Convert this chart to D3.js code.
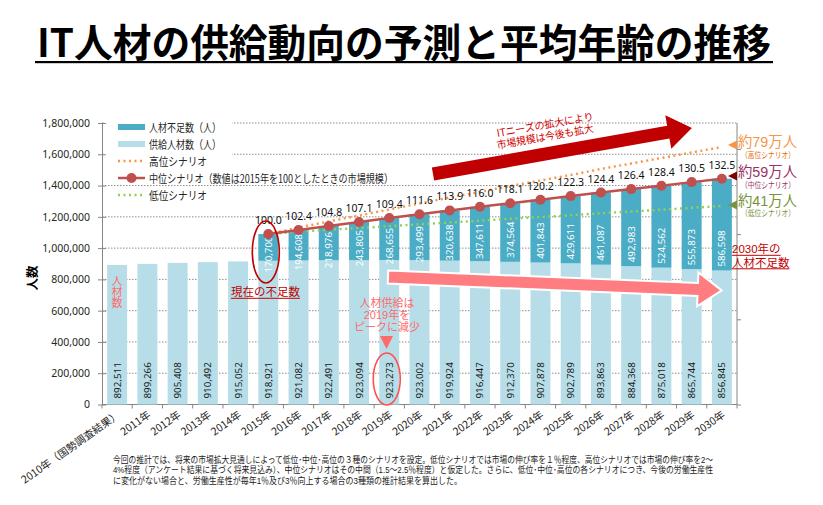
<!DOCTYPE html>
<html>
<head>
<meta charset="utf-8">
<script src="https://cdn.jsdelivr.net/npm/d3@7"></script>
<style>
  body { margin: 0; background: #fff; }
  text { font-family: "Noto Sans CJK JP", "Noto Sans", sans-serif; }
  text.tight { font-family: "Liberation Sans", "Noto Sans CJK JP", sans-serif; }
</style>
</head>
<body>
<div id="chart"></div>
<script>
// ---- data ----
const years = ["2010年（国勢調査結果）", "2011年", "2012年", "2013年", "2014年", "2015年",
  "2016年", "2017年", "2018年", "2019年", "2020年", "2021年", "2022年", "2023年",
  "2024年", "2025年", "2026年", "2027年", "2028年", "2029年", "2030年"];
const supply = [892511, 899266, 905408, 910492, 915052, 918921, 921082, 922491, 923094,
  923273, 923002, 919924, 916447, 912370, 907878, 902789, 893863, 884368, 875018, 865744, 856845];
// shortage from 2015 on
const projYears = years.slice(5);
const shortage = [170700, 194608, 218976, 243805, 268655, 293499, 320638, 347611, 374564,
  401843, 429611, 461087, 492983, 524562, 555873, 586598];
const midIndex = [100.0, 102.4, 104.8, 107.1, 109.4, 111.6, 113.9, 116.0, 118.1, 120.2,
  122.3, 124.4, 126.4, 128.4, 130.5, 132.5];
// demand under the high / low scenarios (persons, estimated)
const highScenario = [1089621, 1131800, 1170200, 1208500, 1246900, 1285300, 1323600, 1358800,
  1397200, 1432300, 1467500, 1505900, 1541000, 1576200, 1611400, 1646500];
const lowScenario = [1089621, 1104900, 1117100, 1128600, 1140100, 1152300, 1163800, 1175300,
  1187400, 1198900, 1210400, 1222600, 1234100, 1245600, 1257800, 1269300];
const yTicks = [0, 200000, 400000, 600000, 800000, 1000000, 1200000, 1400000, 1600000, 1800000];
const indexTicks = [0, 50, 100, 150];

const legendItems = ["人材不足数（人）", "供給人材数（人）", "高位シナリオ",
  "中位シナリオ（数値は2015年を100としたときの市場規模）", "低位シナリオ"];
const footer = [
  "今回の推計では、将来の市場拡大見通しによって低位･中位･高位の３種のシナリオを設定。低位シナリオでは市場の伸び率を１％程度、高位シナリオでは市場の伸び率を2～",
  "4%程度（アンケート結果に基づく将来見込み）、中位シナリオはその中間（1.5～2.5％程度）と仮定した。さらに、低位･中位･高位の各シナリオにつき、今後の労働生産性",
  "に変化がない場合と、労働生産性が毎年1％及び3％向上する場合の3種類の推計結果を算出した。"
];

// ---- colours ----
const cShort = "#4bacc6", cSupply = "#b7dee8", cMid = "#c0504d",
  cHigh = "#f79646", cLow = "#92d050", darkRed = "#c00000", salmon = "#ff6b6b";

const W = 823, H = 505;
const svg = d3.select("#chart").append("svg").attr("width", W).attr("height", H);

const plot = { left: 102, right: 737, top: 123, bottom: 404.5 };

const x = d3.scaleBand().domain(years).range([plot.left, plot.right])
  .paddingInner(0.34).paddingOuter(0.17);
const cx = d => x(d) + x.bandwidth() / 2;
const y = d3.scaleLinear().domain([0, 1800000]).range([plot.bottom, plot.top]);
const yIdx = d3.scaleLinear().domain([0, 100]).range([plot.bottom, y(supply[5] + shortage[0])]);

function fit(sel, w) {
  return sel.attr("textLength", w).attr("lengthAdjust", "spacingAndGlyphs");
}

// title
fit(svg.append("text").attr("x", 37).attr("y", 57)
  .attr("font-size", 39).attr("font-weight", "bold").attr("fill", "#000")
  .text("IT人材の供給動向の予測と平均年齢の推移"), 734);
svg.append("rect").attr("x", 35).attr("y", 61).attr("width", 738).attr("height", 2.2).attr("fill", "#000");

// gridlines
svg.append("g").selectAll("line").data(yTicks.filter(t => t > 0)).join("line")
  .attr("x1", plot.left).attr("x2", plot.right)
  .attr("y1", d => y(d)).attr("y2", d => y(d))
  .attr("stroke", "#8c8c8c").attr("stroke-width", 1).attr("stroke-dasharray", "1.5,1.5");

// legend background
svg.append("rect").attr("x", 104).attr("y", 116).attr("width", 128).attr("height", 54).attr("fill", "#fff");

// left axis
const yAxis = svg.append("g").attr("transform", `translate(${plot.left},0)`)
  .call(d3.axisLeft(y).tickValues(yTicks).tickFormat(d3.format(",")).tickSizeInner(4).tickSizeOuter(0).tickPadding(8));
yAxis.select(".domain").attr("stroke", "#868686");
yAxis.selectAll(".tick line").attr("stroke", "#868686").attr("x2", -4).attr("x1", 4);
yAxis.selectAll(".tick text").attr("font-size", 10.5).attr("fill", "#262626")
  .style("font-family", "'Noto Sans', sans-serif");

// right axis (index)
const rAxis = svg.append("g").attr("transform", `translate(${plot.right},0)`)
  .call(d3.axisRight(yIdx).tickValues(indexTicks).tickFormat("").tickSizeInner(4).tickSizeOuter(0));
rAxis.select(".domain").attr("stroke", "#868686").attr("d", `M0,${plot.top}V${plot.bottom}`);
rAxis.selectAll(".tick line").attr("stroke", "#868686");

// x axis
const gap = (x.step() - x.bandwidth()) / 2;
svg.append("line").attr("x1", plot.left).attr("x2", plot.right)
  .attr("y1", plot.bottom).attr("y2", plot.bottom).attr("stroke", "#868686");
svg.append("g").selectAll("line").data(years.concat(["end"])).join("line")
  .attr("x1", (d, i) => i < years.length ? x(d) - gap : x(years[i - 1]) + x.bandwidth() + gap)
  .attr("x2", (d, i) => i < years.length ? x(d) - gap : x(years[i - 1]) + x.bandwidth() + gap)
  .attr("y1", plot.bottom).attr("y2", plot.bottom + 4).attr("stroke", "#868686");
svg.append("g").selectAll("text").data(years).join("text")
  .attr("transform", d => `translate(${cx(d) + 4},${plot.bottom + 12}) rotate(-35)`)
  .attr("text-anchor", "end").attr("font-size", 10.5).attr("fill", "#262626")
  .text(d => d);

// y label
svg.append("text").attr("transform", "translate(37,278) rotate(-90)")
  .attr("text-anchor", "middle").attr("font-size", 12.5).attr("font-weight", "bold").text("人数");

// supply bars
svg.append("g").selectAll("rect").data(years).join("rect")
  .attr("x", d => x(d)).attr("width", x.bandwidth())
  .attr("y", (d, i) => y(supply[i])).attr("height", (d, i) => y(0) - y(supply[i]))
  .attr("fill", cSupply);

// shortage bars
svg.append("g").selectAll("rect").data(projYears).join("rect")
  .attr("x", d => x(d)).attr("width", x.bandwidth())
  .attr("y", (d, i) => y(supply[i + 5] + shortage[i]))
  .attr("height", (d, i) => y(supply[i + 5]) - y(supply[i + 5] + shortage[i]))
  .attr("fill", cShort);

// supply labels
svg.append("g").selectAll("text").data(years).join("text")
  .attr("transform", d => `translate(${cx(d)},${plot.bottom - 6}) rotate(-90)`)
  .attr("dominant-baseline", "central").attr("font-size", 9.8).attr("fill", "#1a1a1a")
  .style("font-family", "'Noto Sans', sans-serif")
  .text((d, i) => d3.format(",")(supply[i]));

// shortage labels
svg.append("g").selectAll("text").data(projYears).join("text")
  .attr("transform", (d, i) => {
    const top = y(supply[i + 5] + shortage[i]), bot = y(supply[i + 5]);
    const c = Math.max(bot - 22, (top + bot) / 2 + 7);
    return `translate(${cx(d)},${c}) rotate(-90)`;
  })
  .attr("text-anchor", "middle").attr("dominant-baseline", "central")
  .attr("font-size", 9.8).attr("fill", "#ffffff")
  .style("font-family", "'Noto Sans', sans-serif")
  .text((d, i) => d3.format(",")(shortage[i]));

// scenario lines
const lineOf = (vals, sc) => d3.line().x((d, i) => cx(projYears[i])).y(d => sc(d))(vals);
svg.append("path").attr("d", lineOf(highScenario, y)).attr("fill", "none")
  .attr("stroke", cHigh).attr("stroke-width", 2.4).attr("stroke-dasharray", "2,3.5");
svg.append("path").attr("d", lineOf(lowScenario, y)).attr("fill", "none")
  .attr("stroke", cLow).attr("stroke-width", 2.4).attr("stroke-dasharray", "2,3.5");
svg.append("path").attr("d", lineOf(midIndex, yIdx)).attr("fill", "none")
  .attr("stroke", cMid).attr("stroke-width", 2.5);
svg.append("g").selectAll("circle").data(midIndex).join("circle")
  .attr("cx", (d, i) => cx(projYears[i])).attr("cy", d => yIdx(d)).attr("r", 5)
  .attr("fill", cMid);
svg.append("g").selectAll("text").data(midIndex).join("text")
  .attr("x", (d, i) => cx(projYears[i])).attr("y", d => yIdx(d) - 10)
  .attr("text-anchor", "middle").attr("font-size", 10.5).attr("fill", "#111")
  .style("font-family", "'Noto Sans', sans-serif")
  .text(d => d.toFixed(1));

// legend
const lg = svg.append("g");
const lgY = i => 127 + i * 17;
const lgW = [72, 72, 58, 244, 58];
lg.append("rect").attr("x", 118).attr("y", lgY(0) - 3).attr("width", 27).attr("height", 6).attr("fill", cShort);
lg.append("rect").attr("x", 118).attr("y", lgY(1) - 3).attr("width", 27).attr("height", 6).attr("fill", cSupply);
lg.append("line").attr("x1", 118).attr("x2", 145).attr("y1", lgY(2)).attr("y2", lgY(2))
  .attr("stroke", cHigh).attr("stroke-width", 2.4).attr("stroke-dasharray", "2,3.5");
lg.append("line").attr("x1", 118).attr("x2", 145).attr("y1", lgY(3)).attr("y2", lgY(3))
  .attr("stroke", cMid).attr("stroke-width", 2.5);
lg.append("circle").attr("cx", 131.5).attr("cy", lgY(3)).attr("r", 5).attr("fill", cMid);
lg.append("line").attr("x1", 118).attr("x2", 145).attr("y1", lgY(4)).attr("y2", lgY(4))
  .attr("stroke", cLow).attr("stroke-width", 2.4).attr("stroke-dasharray", "2,3.5");
lg.selectAll("text").data(legendItems).join("text")
  .attr("x", 149).attr("y", (d, i) => lgY(i) + 4.5)
  .attr("font-size", 11.5).attr("fill", "#262626")
  .attr("textLength", (d, i) => lgW[i]).attr("lengthAdjust", "spacingAndGlyphs")
  .text(d => d);

// ---- annotations ----
function arrow(len, half, headLen, headHalf) {
  return `M0,${-half}L${len - headLen},${-half}L${len - headLen},${-headHalf}L${len},0`
    + `L${len - headLen},${headHalf}L${len - headLen},${half}L0,${half}Z`;
}
// pink arrow (supply decline)
svg.append("path").attr("d", arrow(334, 6.5, 24, 17))
  .attr("transform", "translate(388,277) rotate(2.3)")
  .attr("fill", "#ff7c80").attr("stroke", "#fff").attr("stroke-width", 2);
// dark red arrow (market growth)
svg.append("path").attr("d", arrow(263, 6.5, 24, 17))
  .attr("transform", "translate(433,174) rotate(-10.1)")
  .attr("fill", darkRed);
[["ITニーズの拡大により", 124], ["市場規模は今後も拡大", 136]].forEach(([t, yy]) => {
  fit(svg.append("text").attr("transform", `translate(545,${yy}) rotate(-10)`)
    .attr("text-anchor", "middle").attr("dominant-baseline", "central")
    .attr("font-size", 10.5).attr("fill", "#d00000").text(t), 98);
});

// "人材数" written vertically in the 2010 bar
svg.append("text").attr("x", cx(years[0])).attr("y", 292)
  .attr("text-anchor", "middle").style("writing-mode", "vertical-rl")
  .attr("font-size", 11).attr("fill", salmon).text("人材数");

// current shortage ellipse + label
svg.append("ellipse").attr("cx", cx(years[5]) - 2.5).attr("cy", 252).attr("rx", 13.5).attr("ry", 31)
  .attr("fill", "none").attr("stroke", darkRed).attr("stroke-width", 1.6);
function underlined(xx, yy, t, size, color) {
  const tx = svg.append("text").attr("class", "tight").attr("x", xx).attr("y", yy)
    .attr("font-size", size).attr("fill", color).text(t);
  const w = tx.node().getComputedTextLength();
  svg.append("line").attr("x1", xx).attr("x2", xx + w).attr("y1", yy + 2.3).attr("y2", yy + 2.3)
    .attr("stroke", color).attr("stroke-width", 1);
}
underlined(231, 296, "現在の不足数", 11.5, darkRed);

// 2019 peak annotation
["人材供給は", "2019年を", "ピークに減少"].forEach((t, i) => {
  svg.append("text").attr("class", "tight").attr("x", 387).attr("y", 306.5 + i * 12.4)
    .attr("text-anchor", "middle").attr("font-size", 11).attr("fill", salmon).text(t);
});
svg.append("path").attr("d", "M380,336L393,336L386.5,349Z").attr("fill", salmon);
svg.append("ellipse").attr("cx", cx(years[9]) - 2.5).attr("cy", 379).attr("rx", 13.5).attr("ry", 26)
  .attr("fill", "none").attr("stroke", "#ff4f4f").attr("stroke-width", 1.6);

// 2030 shortage label
underlined(732, 253, "2030年の", 11.5, darkRed);
underlined(732, 266.5, "人材不足数", 11.5, darkRed);

// scenario callouts on the right
const callouts = [
  { big: "約79万人", small: "（高位シナリオ）", yBig: 146.5, ySmall: 158, color: "#f79646", smallColor: "#e46c0a", tri: "#f79646", yTri: 145 },
  { big: "約59万人", small: "（中位シナリオ）", yBig: 177, ySmall: 188, color: "#993366", smallColor: "#993366", tri: "#7f0000", yTri: 176 },
  { big: "約41万人", small: "（低位シナリオ）", yBig: 205.5, ySmall: 216, color: "#77933c", smallColor: "#77933c", tri: "#77933c", yTri: 205 }
];
callouts.forEach(c => {
  fit(svg.append("text").attr("class", "tight").attr("x", 738).attr("y", c.yBig)
    .attr("font-size", 14.5).attr("fill", c.color).text(c.big), 59);
  fit(svg.append("text").attr("class", "tight").attr("x", 741).attr("y", c.ySmall)
    .attr("font-size", 8.5).attr("fill", c.smallColor).text(c.small), 54);
  svg.append("path").attr("d", `M728,${c.yTri}L737,${c.yTri - 4.5}L737,${c.yTri + 4.5}Z`).attr("fill", c.tri);
});

// footer note
const fw = [600, 600, 349];
footer.forEach((t, i) => {
  fit(svg.append("text").attr("class", "tight").attr("x", 113).attr("y", 462.5 + i * 10.5)
    .attr("font-size", 9).attr("fill", "#1a1a1a").text(t), fw[i]);
});
</script>
</body>
</html>
